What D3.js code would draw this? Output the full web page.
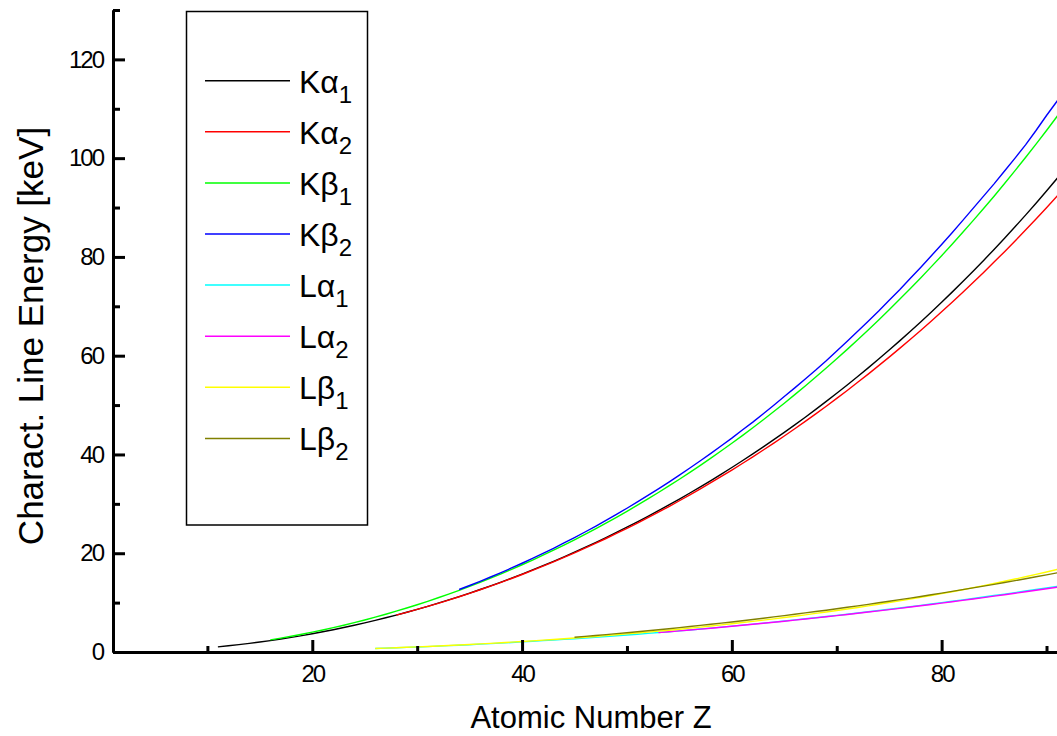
<!DOCTYPE html>
<html>
<head>
<meta charset="utf-8">
<script src="https://cdn.jsdelivr.net/npm/d3@7"></script>
<style>
  body { margin: 0; background: #fff; }
  svg { display: block; font-family: "Liberation Sans", Arial, sans-serif; }
</style>
</head>
<body>
<div id="chart"></div>
<script>
// Atomic numbers Z = 11 .. 92
const atomicNumbers = [
  11, 12, 13, 14, 15, 16, 17, 18, 19, 20,
  21, 22, 23, 24, 25, 26, 27, 28, 29, 30,
  31, 32, 33, 34, 35, 36, 37, 38, 39, 40,
  41, 42, 43, 44, 45, 46, 47, 48, 49, 50,
  51, 52, 53, 54, 55, 56, 57, 58, 59, 60,
  61, 62, 63, 64, 65, 66, 67, 68, 69, 70,
  71, 72, 73, 74, 75, 76, 77, 78, 79, 80,
  81, 82, 83, 84, 85, 86, 87, 88, 89, 90,
  91, 92
];

// line energies in keV, aligned with atomicNumbers (null = no line)
const kAlpha1 = [
  1.041, 1.254, 1.487, 1.740, 2.014, 2.308, 2.622, 2.958, 3.314, 3.692,
  4.091, 4.511, 4.952, 5.415, 5.899, 6.404, 6.930, 7.478, 8.048, 8.639,
  9.252, 9.886, 10.544, 11.222, 11.924, 12.649, 13.395, 14.165, 14.958, 15.775,
  16.615, 17.479, 18.367, 19.279, 20.216, 21.177, 22.163, 23.174, 24.210, 25.271,
  26.359, 27.472, 28.612, 29.779, 30.973, 32.194, 33.442, 34.720, 36.026, 37.361,
  38.725, 40.118, 41.542, 42.996, 44.482, 45.998, 47.547, 49.128, 50.742, 52.389,
  54.070, 55.790, 57.532, 59.318, 61.140, 63.001, 64.896, 66.832, 68.804, 70.819,
  72.872, 74.969, 77.108, 79.290, 81.520, 83.780, 86.100, 88.470, 90.884, 93.350,
  95.868, 98.439
];
const kAlpha2 = [
  null, null, null, null, null, null, null, null, null, null,
  null, null, null, null, null, null, null, 7.461, 8.028, 8.616,
  9.225, 9.855, 10.508, 11.181, 11.878, 12.598, 13.336, 14.098, 14.883, 15.691,
  16.521, 17.374, 18.251, 19.150, 20.074, 21.020, 21.990, 22.984, 24.002, 25.044,
  26.111, 27.202, 28.317, 29.458, 30.625, 31.817, 33.034, 34.279, 35.550, 36.847,
  38.171, 39.522, 40.902, 42.309, 43.744, 45.208, 46.700, 48.221, 49.773, 51.354,
  52.965, 54.611, 56.277, 57.982, 59.718, 61.487, 63.287, 65.112, 66.990, 68.895,
  70.832, 72.804, 74.815, 76.862, 78.950, 81.070, 83.230, 85.430, 87.670, 89.953,
  92.287, 94.665
];
const kBeta1 = [
  null, null, null, null, null, 2.464, 2.816, 3.191, 3.590, 4.013,
  4.461, 4.932, 5.427, 5.947, 6.490, 7.058, 7.649, 8.265, 8.905, 9.572,
  10.264, 10.982, 11.726, 12.496, 13.291, 14.112, 14.961, 15.836, 16.738, 17.668,
  18.623, 19.608, 20.619, 21.657, 22.724, 23.819, 24.942, 26.096, 27.276, 28.486,
  29.726, 30.996, 32.295, 33.624, 34.987, 36.378, 37.801, 39.257, 40.748, 42.271,
  43.826, 45.413, 47.038, 48.697, 50.382, 52.119, 53.877, 55.681, 57.517, 59.370,
  61.283, 63.234, 65.223, 67.244, 69.310, 71.413, 73.561, 75.748, 77.984, 80.253,
  82.576, 84.936, 87.343, 89.800, 92.300, 94.870, 97.470, 100.130, 102.850, 105.609,
  108.427, 111.300
];
const kBeta2 = [
  null, null, null, null, null, null, null, null, null, null,
  null, null, null, null, null, null, null, null, null, null,
  null, null, null, 12.652, 13.470, 14.315, 15.186, 16.085, 17.015, 17.970,
  18.953, 19.965, 21.005, 22.074, 23.173, 24.299, 25.456, 26.644, 27.860, 29.109,
  30.390, 31.700, 33.042, 34.415, 35.822, 37.257, 38.729, 40.234, 41.773, 43.298,
  44.955, 46.553, 48.256, 49.961, 51.737, 53.491, 55.292, 57.088, 58.969, 60.959,
  62.946, 64.936, 66.999, 69.067, 71.232, 73.363, 75.617, 77.866, 80.185, 82.526,
  84.904, 87.343, 89.833, 92.315, 94.800, 97.400, 100.000, 102.700, 105.600, 108.640,
  111.530, 114.500
];
const lAlpha1 = [
  null, null, null, null, null, null, null, null, null, null,
  null, null, null, null, null, 0.705, 0.776, 0.852, 0.930, 1.012,
  1.098, 1.188, 1.282, 1.379, 1.480, 1.586, 1.694, 1.807, 1.923, 2.042,
  2.166, 2.293, 2.424, 2.559, 2.697, 2.839, 2.984, 3.134, 3.287, 3.444,
  3.605, 3.769, 3.938, 4.110, 4.287, 4.466, 4.651, 4.840, 5.034, 5.230,
  5.433, 5.636, 5.846, 6.057, 6.273, 6.495, 6.720, 6.949, 7.180, 7.416,
  7.656, 7.899, 8.146, 8.398, 8.653, 8.912, 9.175, 9.442, 9.713, 9.989,
  10.269, 10.552, 10.839, 11.131, 11.427, 11.727, 12.031, 12.340, 12.652, 12.969,
  13.291, 13.615
];
const lAlpha2 = [
  null, null, null, null, null, null, null, null, null, null,
  null, null, null, null, null, null, null, null, null, null,
  null, null, null, null, null, null, null, null, null, null,
  null, null, null, null, null, null, null, null, null, null,
  null, null, 3.926, 4.099, 4.272, 4.451, 4.634, 4.823, 5.014, 5.208,
  5.408, 5.609, 5.817, 6.025, 6.238, 6.458, 6.680, 6.905, 7.133, 7.367,
  7.605, 7.845, 8.088, 8.335, 8.586, 8.841, 9.100, 9.362, 9.628, 9.898,
  10.173, 10.450, 10.731, 11.016, 11.305, 11.598, 11.895, 12.196, 12.501, 12.810,
  13.122, 13.439
];
const lBeta1 = [
  null, null, null, null, null, null, null, null, null, null,
  null, null, null, null, null, 0.719, 0.791, 0.869, 0.950, 1.035,
  1.125, 1.219, 1.317, 1.419, 1.526, 1.637, 1.752, 1.872, 1.996, 2.124,
  2.257, 2.395, 2.537, 2.683, 2.834, 2.990, 3.151, 3.317, 3.487, 3.663,
  3.844, 4.030, 4.221, 4.418, 4.620, 4.828, 5.042, 5.262, 5.489, 5.722,
  5.961, 6.205, 6.456, 6.713, 6.978, 7.248, 7.525, 7.811, 8.101, 8.402,
  8.709, 9.023, 9.343, 9.672, 10.010, 10.355, 10.708, 11.071, 11.442, 11.823,
  12.213, 12.614, 13.024, 13.447, 13.876, 14.316, 14.770, 15.236, 15.713, 16.202,
  16.702, 17.220
];
const lBeta2 = [
  null, null, null, null, null, null, null, null, null, null,
  null, null, null, null, null, null, null, null, null, null,
  null, null, null, null, null, null, null, null, null, null,
  null, null, null, null, 3.001, 3.172, 3.348, 3.528, 3.714, 3.905,
  4.101, 4.302, 4.508, 4.720, 4.936, 5.157, 5.384, 5.613, 5.850, 6.089,
  6.339, 6.587, 6.843, 7.103, 7.367, 7.636, 7.912, 8.189, 8.468, 8.759,
  9.049, 9.347, 9.652, 9.962, 10.275, 10.599, 10.920, 11.251, 11.585, 11.924,
  12.272, 12.623, 12.980, 13.340, 13.705, 14.080, 14.450, 14.841, 15.231, 15.624,
  16.025, 16.428
];

const lineLabels = ["Kα1", "Kα2", "Kβ1", "Kβ2", "Lα1", "Lα2", "Lβ1", "Lβ2"];
const lineColors = ["#000000", "#ff0000", "#00ff00", "#0000ff", "#00ffff", "#ff00ff", "#ffff00", "#808000"];
const lineValues = [kAlpha1, kAlpha2, kBeta1, kBeta2, lAlpha1, lAlpha2, lBeta1, lBeta2];

const xMajor = [20, 40, 60, 80];
const xMinor = [10, 30, 50, 70, 90];
const yMajor = [0, 20, 40, 60, 80, 100, 120];
const yMinor = [10, 30, 50, 70, 90, 110, 130];

const width = 1057, height = 736;

const x = d3.scaleLinear().domain([1, 91]).range([113, 1057]);
const y = d3.scaleLinear().domain([0, 130]).range([652, 10]);

const svg = d3.select("#chart").append("svg")
  .attr("width", width)
  .attr("height", height);

svg.append("rect").attr("width", width).attr("height", height).attr("fill", "#fff");

// series
const line = d3.line()
  .defined(d => d[1] != null)
  .x(d => x(d[0]))
  .y(d => y(d[1]));

lineValues.forEach((vals, i) => {
  svg.append("path")
    .datum(atomicNumbers.map((z, j) => [z, vals[j]]))
    .attr("fill", "none")
    .attr("stroke", lineColors[i])
    .attr("stroke-width", 1.4)
    .attr("d", line);
});

// axes, ticks pointing inward
function styleAxis(g) {
  g.select(".domain").attr("stroke", "#000").attr("stroke-width", 3);
  g.selectAll(".tick line").attr("stroke", "#000").attr("stroke-width", 3);
  g.selectAll(".tick text")
    .attr("fill", "#000")
    .style("font-size", "24px")
    .style("letter-spacing", "-2px");
}

svg.append("g")
  .attr("transform", `translate(0,${y(0)})`)
  .call(d3.axisBottom(x).tickValues(xMinor).tickSize(-6).tickSizeOuter(0).tickFormat(""))
  .call(styleAxis);
svg.append("g")
  .attr("transform", `translate(0,${y(0)})`)
  .call(d3.axisBottom(x).tickValues(xMajor).tickSize(-12).tickSizeOuter(0).tickPadding(13))
  .call(styleAxis);

svg.append("g")
  .attr("transform", `translate(${x(1)},0)`)
  .call(d3.axisLeft(y).tickValues(yMinor).tickSize(-7).tickSizeOuter(0).tickFormat(""))
  .call(styleAxis);
svg.append("g")
  .attr("transform", `translate(${x(1)},0)`)
  .call(d3.axisLeft(y).tickValues(yMajor).tickSize(-12).tickSizeOuter(0).tickPadding(10))
  .call(styleAxis);

// axis titles
svg.append("text")
  .attr("x", 591)
  .attr("y", 728)
  .attr("text-anchor", "middle")
  .style("font-size", "31px")
  .text("Atomic Number Z");

svg.append("text")
  .attr("transform", "translate(43,336) rotate(-90)")
  .attr("text-anchor", "middle")
  .style("font-size", "35px")
  .text("Charact. Line Energy [keV]");

// legend
const legend = svg.append("g");
legend.append("rect")
  .attr("x", 186.5).attr("y", 11.5)
  .attr("width", 181).attr("height", 513.5)
  .attr("fill", "#fff")
  .attr("stroke", "#000")
  .attr("stroke-width", 1.5);

lineLabels.forEach((label, i) => {
  const ry = 80.7 + i * 51.1;
  legend.append("line")
    .attr("x1", 205).attr("x2", 290)
    .attr("y1", ry).attr("y2", ry)
    .attr("stroke", lineColors[i])
    .attr("stroke-width", 1.5);
  const t = legend.append("text")
    .attr("x", 299)
    .attr("y", ry + 12)
    .style("font-size", "32px");
  t.append("tspan").text(label.slice(0, 2));
  t.append("tspan")
    .attr("dy", 10)
    .style("font-size", "24px")
    .text(label.slice(2));
});
</script>
</body>
</html>
